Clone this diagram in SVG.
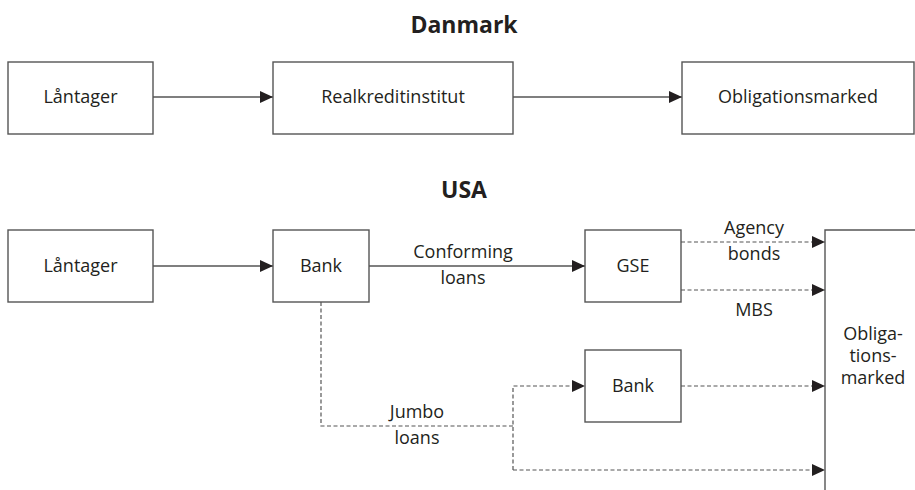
<svg xmlns="http://www.w3.org/2000/svg" width="915" height="490" viewBox="0 0 915 490">
<style>
  text { font-family: "Open Sans", "Noto Sans", sans-serif; font-size: 18px; fill: #231f20; text-anchor: middle; }
  .title { font-weight: bold; font-size: 23px; }
  .box { fill: #fff; stroke: #555; stroke-width: 1.4; }
  .solid { fill: none; stroke: #555; stroke-width: 1.4; }
  .dash { fill: none; stroke: #555; stroke-width: 1.2; stroke-dasharray: 4 2.5; }
</style>
<defs>
  <marker id="arr" markerWidth="13" markerHeight="12" refX="13" refY="6" orient="auto" markerUnits="userSpaceOnUse">
    <path d="M0,0 L13,6 L0,12 Z" fill="#231f20"/>
  </marker>
</defs>
<rect width="915" height="490" fill="#fff"/>
<text class="title" x="464" y="33">Danmark</text>
<text class="title" x="464" y="198">USA</text>

<g id="connectors">
  <line class="solid" x1="153" y1="97" x2="273" y2="97" marker-end="url(#arr)"/>
  <line class="solid" x1="513" y1="97" x2="682" y2="97" marker-end="url(#arr)"/>
  <line class="solid" x1="153" y1="266" x2="273" y2="266" marker-end="url(#arr)"/>
  <line class="solid" x1="369" y1="266" x2="585" y2="266" marker-end="url(#arr)"/>
  <line class="dash" x1="681" y1="242" x2="825" y2="242" marker-end="url(#arr)"/>
  <line class="dash" x1="681" y1="290" x2="825" y2="290" marker-end="url(#arr)"/>
  <polyline class="dash" points="321,302 321,426 513,426"/>
  <polyline class="dash" points="513,470 513,386 585,386" marker-end="url(#arr)"/>
  <line class="dash" x1="513" y1="470" x2="825" y2="470" marker-end="url(#arr)"/>
  <line class="dash" x1="681" y1="386" x2="825" y2="386" marker-end="url(#arr)"/>
  <text x="463" y="258">Conforming</text>
  <text x="463" y="284">loans</text>
  <text x="754" y="234">Agency</text>
  <text x="754" y="260">bonds</text>
  <text x="754" y="316">MBS</text>
  <text x="417" y="418">Jumbo</text>
  <text x="417" y="444">loans</text>
</g>

<g id="dk-laantager">
  <rect class="box" x="8" y="62" width="145" height="72"/>
  <text x="80.5" y="103">Låntager</text>
</g>
<g id="dk-realkredit">
  <rect class="box" x="273" y="62" width="240" height="72"/>
  <text x="393" y="103">Realkreditinstitut</text>
</g>
<g id="dk-obligationsmarked">
  <rect class="box" x="682" y="62" width="232" height="72"/>
  <text x="798" y="103">Obligationsmarked</text>
</g>

<g id="us-laantager">
  <rect class="box" x="8" y="230" width="145" height="72"/>
  <text x="80.5" y="272">Låntager</text>
</g>
<g id="us-bank">
  <rect class="box" x="273" y="230" width="96" height="72"/>
  <text x="321" y="272">Bank</text>
</g>
<g id="us-gse">
  <rect class="box" x="585" y="230" width="96" height="72"/>
  <text x="633" y="272">GSE</text>
</g>
<g id="us-bank2">
  <rect class="box" x="585" y="350" width="96" height="72"/>
  <text x="633" y="392">Bank</text>
</g>
<g id="us-obligationsmarked">
  <polyline class="solid" points="825,490 825,230 915,230"/>
  <text x="873" y="340">Obliga-</text>
  <text x="873" y="362">tions-</text>
  <text x="873" y="384">marked</text>
</g>
</svg>
